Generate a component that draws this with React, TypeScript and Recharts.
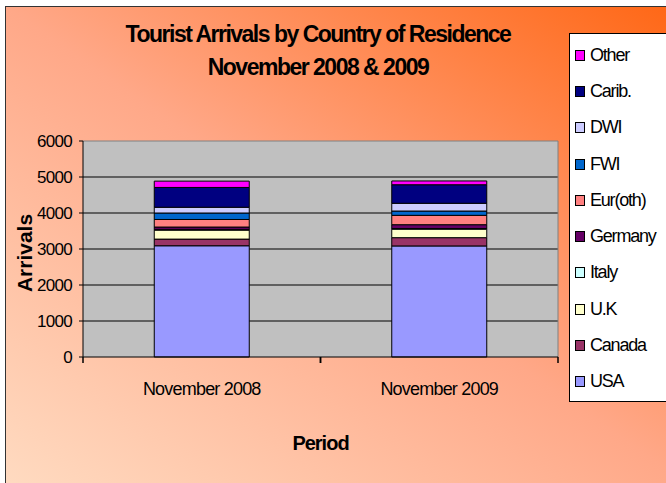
import {
  BarChart,
  Bar,
  XAxis,
  YAxis,
  CartesianGrid,
  Legend,
  ReferenceLine,
} from "recharts";

const periods = ["November 2008", "November 2009"];

const usa = [3090, 3085];
const canada = [185, 230];
const uk = [250, 235];
const italy = [20, 20];
const germany = [65, 105];
const eurOther = [210, 260];
const fwi = [180, 120];
const dwi = [160, 215];
const carib = [550, 515];
const other = [175, 105];

const yTicks = [0, 1000, 2000, 3000, 4000, 5000, 6000];

const SERIES = [
  { key: "usa", name: "USA", color: "#9999FF", values: usa },
  { key: "canada", name: "Canada", color: "#993366", values: canada },
  { key: "uk", name: "U.K", color: "#FFFFCC", values: uk },
  { key: "italy", name: "Italy", color: "#CCFFFF", values: italy },
  { key: "germany", name: "Germany", color: "#660066", values: germany },
  { key: "eurOther", name: "Eur(oth)", color: "#FF8080", values: eurOther },
  { key: "fwi", name: "FWI", color: "#0066CC", values: fwi },
  { key: "dwi", name: "DWI", color: "#CCCCFF", values: dwi },
  { key: "carib", name: "Carib.", color: "#000080", values: carib },
  { key: "other", name: "Other", color: "#FF00FF", values: other },
];

const data = periods.map((period, i) => {
  const row: Record<string, string | number> = { period };
  SERIES.forEach((s) => {
    row[s.key] = s.values[i];
  });
  return row;
});

const FONT = '"Liberation Sans", Arial, sans-serif';
const TICK_GAP = 25;

const seriesIndex = (name: string) => SERIES.findIndex((s) => s.name === name);

// label under the band, plus Excel-style tick marks on the band edges
const CategoryTick = (props: any) => {
  const { x, y, payload } = props;
  const half = payload.offset || 0;
  const axisY = y - TICK_GAP;
  return (
    <g>
      <line x1={x - half} x2={x - half} y1={axisY} y2={axisY + 6} stroke="#000" strokeWidth={1.5} />
      <line x1={x + half} x2={x + half} y1={axisY} y2={axisY + 6} stroke="#000" strokeWidth={1.5} />
      <text
        x={x}
        y={y}
        dy="0.71em"
        textAnchor="middle"
        fill="#000"
        fontSize={18}
        letterSpacing={-0.8}
        fontFamily={FONT}
      >
        {payload.value}
      </text>
    </g>
  );
};

const LegendBox = (props: any) => {
  // top of the box = last series, like the stacking order
  const items = [...(props.payload || [])].sort(
    (a: any, b: any) => seriesIndex(b.value) - seriesIndex(a.value)
  );
  return (
    <div
      style={{
        width: 110,
        height: 369,
        background: "#fff",
        border: "1px solid #000",
        boxSizing: "border-box",
        paddingTop: 3,
        fontFamily: FONT,
      }}
    >
      {items.map((entry: any) => (
        <div
          key={entry.value}
          style={{
            height: 36.3,
            display: "flex",
            alignItems: "center",
            paddingLeft: 5,
          }}
        >
          <span
            style={{
              width: 8,
              height: 9,
              background: entry.color,
              border: "1px solid #000",
              marginRight: 5,
              display: "inline-block",
            }}
          />
          <span style={{ fontSize: 18, letterSpacing: -1.2, color: "#000" }}>
            {entry.value}
          </span>
        </div>
      ))}
    </div>
  );
};

const App = () => {
  return (
    <div
      style={{
        position: "fixed",
        left: 0,
        top: 0,
        width: 666,
        height: 483,
        background: "#fff",
        overflow: "hidden",
      }}
    >
      <div
        style={{
          position: "absolute",
          left: 5,
          top: 6,
          width: 700,
          height: 490,
          border: "1px solid #333",
          background:
            "linear-gradient(to top right, #FFDCC2 0%, #FFA888 50%, #FF6410 100%)",
        }}
      />
      <div
        style={{
          position: "absolute",
          left: 0,
          top: 18,
          width: 636,
          textAlign: "center",
          fontFamily: FONT,
          fontWeight: "bold",
          fontSize: 23,
          letterSpacing: -1.5,
          lineHeight: "33px",
          color: "#000",
        }}
      >
        <div>Tourist Arrivals by Country of Residence</div>
        <div>November 2008 &amp; 2009</div>
      </div>
      <div style={{ position: "absolute", left: 0, top: 0 }}>
        <BarChart
          width={666}
          height={483}
          data={data}
          margin={{ top: 141, right: 108, left: 0, bottom: 26 }}
          barCategoryGap="30%"
        >
          <CartesianGrid
            vertical={false}
            fill="#C0C0C0"
            stroke="#000"
            horizontalValues={[1000, 2000, 3000, 4000, 5000]}
          />
          <CartesianGrid
            horizontal={false}
            stroke="#808080"
            verticalCoordinatesGenerator={({ offset }: any) => [
              offset.left + offset.width,
            ]}
          />
          <XAxis
            dataKey="period"
            tickLine={false}
            tickSize={0}
            tickMargin={TICK_GAP}
            height={100}
            interval={0}
            axisLine={{ stroke: "#000" }}
            tick={<CategoryTick />}
            label={{
              value: "Period",
              position: "insideBottom",
              offset: 7,
              fill: "#000",
              fontSize: 20,
              fontWeight: "bold",
              letterSpacing: -1,
              fontFamily: FONT,
            }}
          />
          <YAxis
            width={83}
            domain={[0, 6000]}
            ticks={yTicks}
            interval={0}
            tickSize={4}
            tickMargin={7}
            axisLine={{ stroke: "#000" }}
            tickLine={{ stroke: "#000" }}
            tick={{ fill: "#000", fontSize: 17, letterSpacing: -0.7, fontFamily: FONT }}
            label={{
              content: (p: any) => {
                const vb = p.viewBox || {};
                const cx = vb.x + 24;
                const cy = vb.y + vb.height / 2 + 4;
                return (
                  <text
                    x={cx}
                    y={cy}
                    transform={`rotate(-90, ${cx}, ${cy})`}
                    textAnchor="middle"
                    dominantBaseline="central"
                    fontSize={21}
                    fontWeight="bold"
                    fontFamily={FONT}
                    fill="#000"
                  >
                    Arrivals
                  </text>
                );
              },
            }}
          />
          <ReferenceLine y={6000} stroke="#808080" />
          {SERIES.map((s) => (
            <Bar
              key={s.key}
              dataKey={s.key}
              name={s.name}
              stackId="a"
              fill={s.color}
              stroke="#000"
              strokeWidth={1}
              isAnimationActive={false}
            />
          ))}
          <Legend
            layout="vertical"
            align="right"
            verticalAlign="top"
            wrapperStyle={{ left: 569, top: 33, width: 0, height: 0 }}
            content={<LegendBox />}
          />
        </BarChart>
      </div>
    </div>
  );
};

export default App;
